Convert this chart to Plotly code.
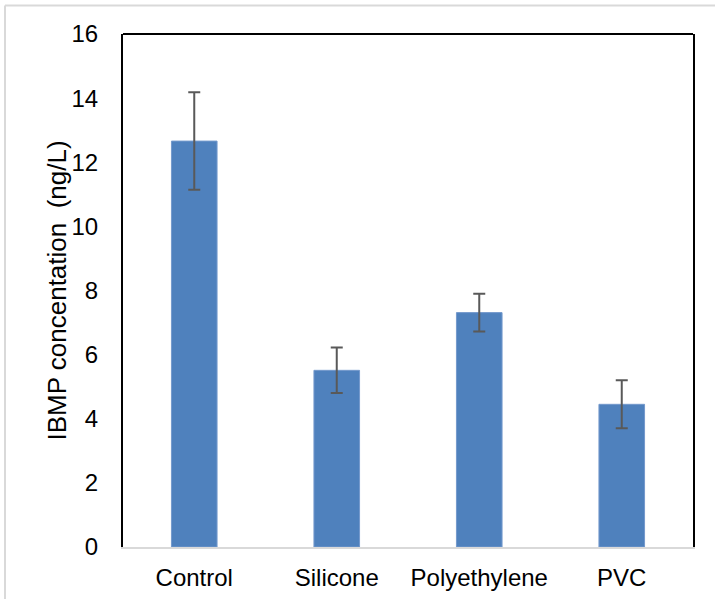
import plotly.graph_objects as go

categories = ["Control", "Silicone", "Polyethylene", "PVC"]
values = [12.66, 5.51, 7.31, 4.45]
errors = [1.52, 0.71, 0.59, 0.75]
y_ticks = [0, 2, 4, 6, 8, 10, 12, 14, 16]
y_title = "IBMP concentation\u00a0 (ng/L)"

FONT = "Liberation Sans, Arial, sans-serif"

fig = go.Figure()
fig.add_trace(go.Bar(
    x=categories,
    y=values,
    marker=dict(color="#4f81bd", line=dict(color="#7499cc", width=1)),
    error_y=dict(type="data", array=errors, visible=True,
                 color="#595959", thickness=2, width=6),
    width=0.32,
))

fig.update_layout(
    width=715, height=599,
    paper_bgcolor="white", plot_bgcolor="white",
    margin=dict(l=123, r=22, t=34, b=52),
    font=dict(family=FONT, size=24, color="#000000"),
    showlegend=False,
    xaxis=dict(
        showline=True, linecolor="#d9d9d9", linewidth=2,
        ticks="outside", ticklen=8, tickcolor="rgba(0,0,0,0)",
        showgrid=False, zeroline=False, automargin=False,
        tickfont=dict(family=FONT, size=24, color="#000000"),
    ),
    yaxis=dict(
        range=[0, 16], tickvals=y_ticks,
        showline=True, mirror=True, linecolor="#000000", linewidth=2,
        ticks="outside", ticklen=18, tickcolor="rgba(0,0,0,0)",
        showgrid=False, zeroline=False, automargin=False,
        tickfont=dict(family=FONT, size=24, color="#000000"),
    ),
    annotations=[
        dict(text=y_title, xref="paper", yref="paper", x=-0.1175, y=0.5,
             xanchor="center", yanchor="middle", textangle=-90,
             showarrow=False,
             font=dict(family=FONT, size=26, color="#000000")),
    ],
    shapes=[
        dict(type="line", xref="paper", yref="paper", x0=0, x1=1, y0=1, y1=1,
             line=dict(color="#000000", width=2)),
        dict(type="line", xref="paper", yref="paper", x0=-0.207, x1=1.04,
             y0=1.0556, y1=1.0556, line=dict(color="#d9d9d9", width=2)),
        dict(type="line", xref="paper", yref="paper", x0=-0.207, x1=-0.207,
             y0=-0.11, y1=1.0556, line=dict(color="#d9d9d9", width=2)),
    ],
)

fig.write_html("out.html", config={"displayModeBar": False},
               post_script="document.body.style.margin='0';")
